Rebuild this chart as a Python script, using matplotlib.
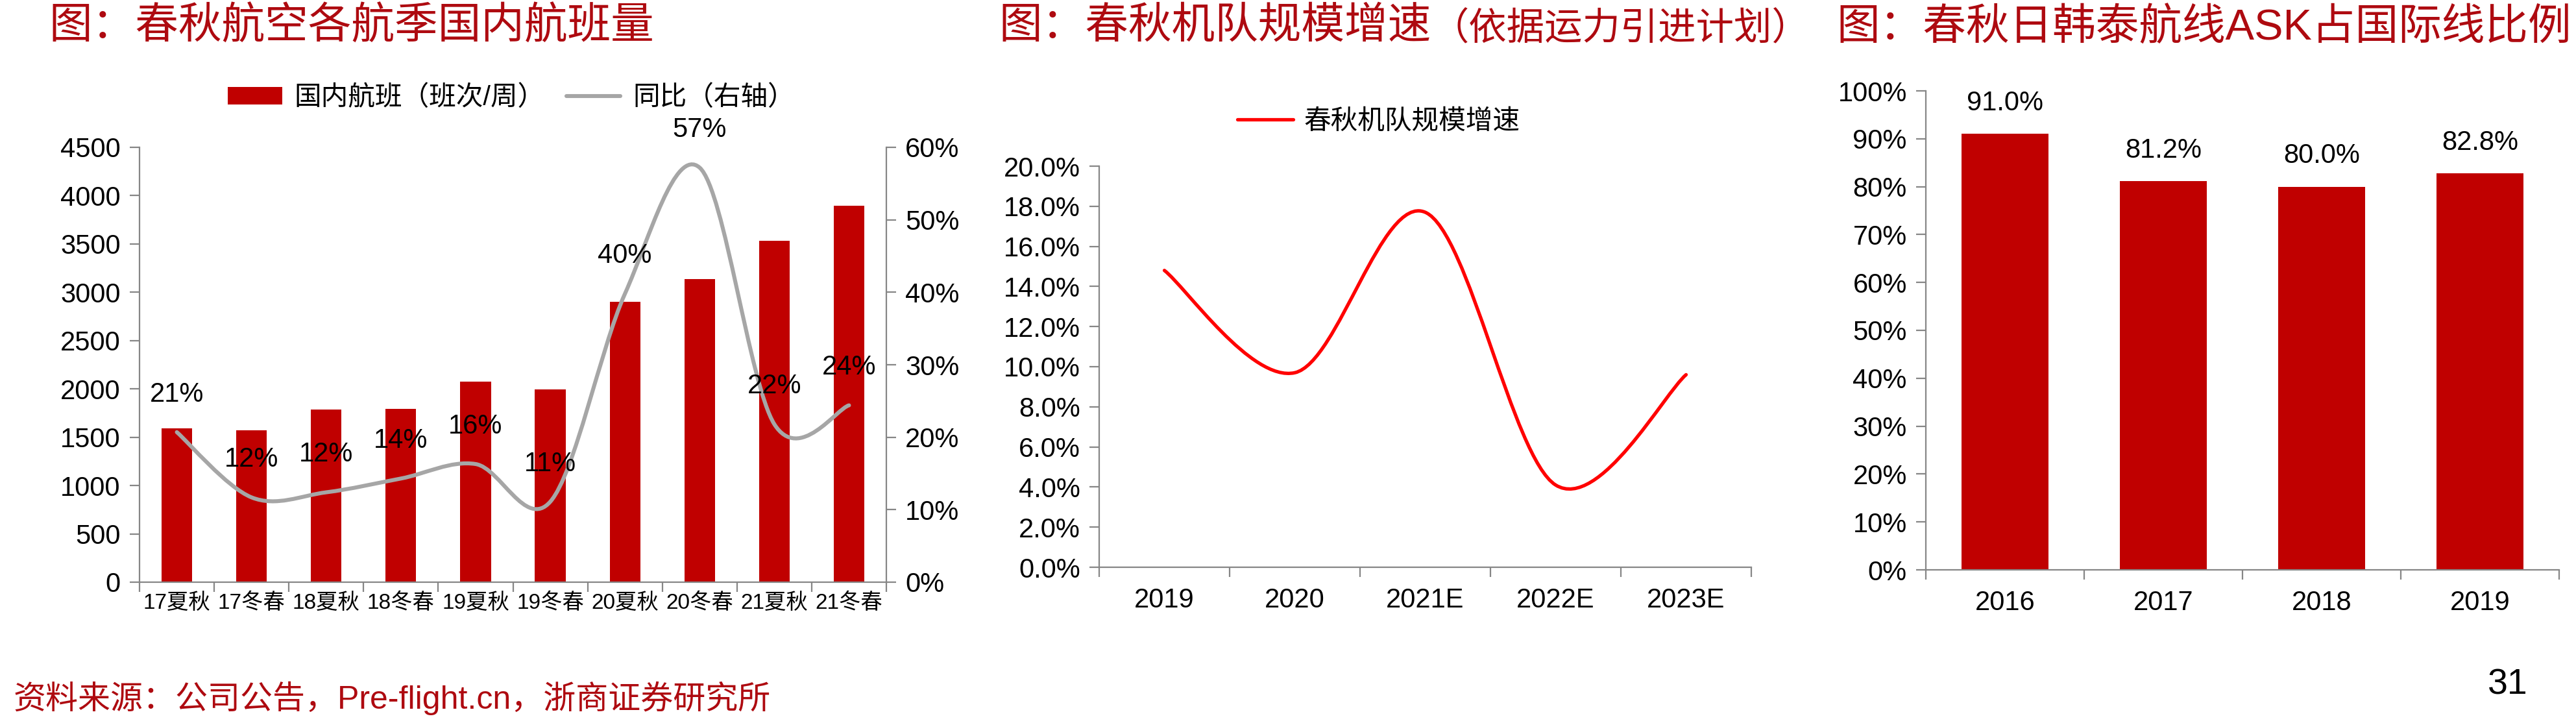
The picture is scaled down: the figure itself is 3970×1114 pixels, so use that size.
import matplotlib
matplotlib.use('Agg')
import matplotlib.pyplot as plt
import numpy as np
from matplotlib.path import Path
from matplotlib.patches import PathPatch
from matplotlib.lines import Line2D
from matplotlib.ticker import FuncFormatter

plt.rcParams['font.family'] = ['Liberation Sans', 'Noto Sans CJK SC']

# chart 1: domestic flights per season + yoy
seasons = ['17夏秋', '17冬春', '18夏秋', '18冬春', '19夏秋', '19冬春',
           '20夏秋', '20冬春', '21夏秋', '21冬春']
flights = [1590, 1570, 1785, 1790, 2075, 1995, 2900, 3135, 3535, 3895]
yoy = [0.207, 0.117, 0.124, 0.143, 0.163, 0.111, 0.398, 0.572, 0.218, 0.244]

# chart 2: fleet growth
fleet_years = ['2019', '2020', '2021E', '2022E', '2023E']
fleet_growth = [0.148, 0.097, 0.177, 0.041, 0.096]

# chart 3: JP/KR/TH share of international ASK
ask_years = ['2016', '2017', '2018', '2019']
ask_share = [0.910, 0.812, 0.800, 0.828]

W, H = 3970, 1114
TITLE_RED = '#AE0A10'
BAR_RED = '#C00000'
AX_GRAY = '#868686'
LINE_GRAY = '#A6A6A6'
TICK_FS = 30


def fx(px):
    return px / W


def fy(py):
    return 1 - py / H


def smooth_path(x, y):
    # excel-style smoothed line (catmull-rom as cubic bezier)
    x = np.asarray(x, float)
    y = np.asarray(y, float)
    px = np.r_[x[0], x, x[-1]]
    py = np.r_[y[0], y, y[-1]]
    verts = [(x[0], y[0])]
    codes = [Path.MOVETO]
    for i in range(1, len(x)):
        c1 = (px[i] + (px[i+1] - px[i-1]) / 6, py[i] + (py[i+1] - py[i-1]) / 6)
        c2 = (px[i+1] - (px[i+2] - px[i]) / 6, py[i+1] - (py[i+2] - py[i]) / 6)
        verts += [c1, c2, (px[i+1], py[i+1])]
        codes += [Path.CURVE4] * 3
    return Path(verts, codes)


def style_axes(ax, labels, xlabel_fs, xpad):
    n = len(labels)
    for s in ['top', 'right', 'left', 'bottom']:
        ax.spines[s].set_visible(s in ('left', 'bottom'))
        ax.spines[s].set_color(AX_GRAY)
        ax.spines[s].set_linewidth(1.6)
    ax.set_xlim(-0.5, n - 0.5)
    ax.set_xticks(np.arange(n + 1) - 0.5)
    ax.set_xticklabels([])
    ax.set_xticks(np.arange(n), labels=labels, minor=True)
    ax.tick_params(axis='x', which='major', length=11, width=1.6, color=AX_GRAY)
    ax.tick_params(axis='x', which='minor', length=0, pad=xpad, labelsize=xlabel_fs)
    ax.tick_params(axis='y', length=11, width=1.6, color=AX_GRAY, pad=10,
                   labelsize=TICK_FS)


fig = plt.figure(figsize=(W / 100, H / 100), dpi=100)
fig.patch.set_facecolor('white')

# ---------------- chart 1 ----------------
ax1 = fig.add_axes([fx(215), fy(897), fx(1366 - 215), (897 - 227) / H])
x1 = np.arange(len(seasons))
bars1 = ax1.bar(x1, flights, width=0.41, color=BAR_RED, zorder=2)
ax1.set_ylim(0, 4500)
ax1.set_yticks(np.arange(0, 4501, 500))
style_axes(ax1, seasons, 24, 12)

ax2 = ax1.twinx()
for s in ['top', 'left', 'bottom']:
    ax2.spines[s].set_visible(False)
ax2.spines['right'].set_color(AX_GRAY)
ax2.spines['right'].set_linewidth(1.6)
ax2.set_ylim(0, 0.6)
ax2.set_yticks(np.arange(0, 0.61, 0.1))
ax2.yaxis.set_major_formatter(FuncFormatter(lambda v, p: f'{v:.0%}'))
ax2.tick_params(axis='y', length=11, width=1.6, color=AX_GRAY, pad=10,
                labelsize=TICK_FS)
ax2.add_patch(PathPatch(smooth_path(x1, yoy), fill=False, edgecolor=LINE_GRAY,
                        lw=4.4, capstyle='round', zorder=3))
for i, v in enumerate(yoy):
    ax2.annotate(f'{v:.0%}', (x1[i], v), xytext=(0, 42), textcoords='offset points',
                 ha='center', va='center', fontsize=TICK_FS, color='black', zorder=4)

h_line = Line2D([], [], color=LINE_GRAY, lw=4.4, solid_capstyle='round')
fig.legend([bars1, h_line], ['国内航班（班次/周）', '同比（右轴）'], loc='center',
           bbox_to_anchor=(fx(788), fy(151)), ncol=2, frameon=False, fontsize=30,
           handlelength=2.0, handleheight=0.62, handletextpad=0.45, columnspacing=0.8)

# ---------------- chart 2 ----------------
ax3 = fig.add_axes([fx(1694), fy(874), fx(2699 - 1694), (874 - 256) / H])
x3 = np.arange(len(fleet_years))
ax3.add_patch(PathPatch(smooth_path(x3, fleet_growth), fill=False, edgecolor='#FF0000',
                        lw=3.8, capstyle='round', zorder=3))
ax3.set_ylim(0, 0.2)
ax3.set_yticks(np.arange(0, 0.2001, 0.02))
ax3.yaxis.set_major_formatter(FuncFormatter(lambda v, p: f'{v:.1%}'))
style_axes(ax3, fleet_years, TICK_FS, 22)
h_red = Line2D([], [], color='#FF0000', lw=3.8, solid_capstyle='round')
fig.legend([h_red], ['春秋机队规模增速'], loc='center',
           bbox_to_anchor=(fx(2125), fy(188)), frameon=False, fontsize=30,
           handlelength=2.05, handletextpad=0.4)

# ---------------- chart 3 ----------------
ax4 = fig.add_axes([fx(2968), fy(878), fx(3944 - 2968), (878 - 140) / H])
x4 = np.arange(len(ask_years))
ax4.bar(x4, ask_share, width=0.55, color=BAR_RED, zorder=2)
ax4.set_ylim(0, 1.0)
ax4.set_yticks(np.arange(0, 1.001, 0.1))
ax4.yaxis.set_major_formatter(FuncFormatter(lambda v, p: f'{v:.0%}'))
style_axes(ax4, ask_years, TICK_FS, 22)
for i, v in enumerate(ask_share):
    ax4.annotate(f'{v:.1%}', (x4[i], v), xytext=(0, 34), textcoords='offset points',
                 ha='center', va='center', fontsize=TICK_FS, color='black')

# ---------------- titles and notes ----------------
fig.text(fx(75), fy(42), '图：春秋航空各航季国内航班量', fontsize=48,
         color=TITLE_RED, ha='left', va='center')
t_mid = fig.text(fx(1539), fy(42), '图：春秋机队规模增速', fontsize=48,
                 color=TITLE_RED, ha='left', va='center')
plt.annotate('（依据运力引进计划）', xy=(1, 0), xycoords=t_mid, fontsize=42,
             color=TITLE_RED, ha='left', va='bottom', annotation_clip=False)
fig.text(fx(2830), fy(44), '图：春秋日韩泰航线ASK占国际线比例', fontsize=48,
         color=TITLE_RED, ha='left', va='center')

fig.text(fx(21), fy(1076), '资料来源：公司公告，Pre-flight.cn，浙商证券研究所',
         fontsize=36, color=TITLE_RED, ha='left', va='center')
fig.text(fx(3865), fy(1055), '31', fontsize=40, color='black', ha='center', va='center')

fig.savefig('out.png', dpi=100, facecolor='white')
